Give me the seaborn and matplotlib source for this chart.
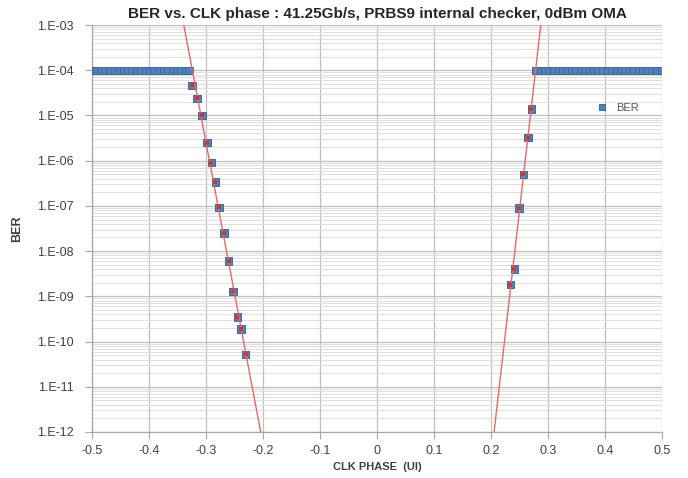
import numpy as np
import pandas as pd
import matplotlib
matplotlib.use("Agg")
import matplotlib.pyplot as plt
import matplotlib.ticker as mticker
import seaborn as sns

# ---- data ----
left_floor_phase = [-0.500, -0.492, -0.484, -0.477, -0.469, -0.461, -0.453, -0.445,
                    -0.438, -0.430, -0.422, -0.414, -0.406, -0.398, -0.391, -0.383,
                    -0.375, -0.367, -0.359, -0.352, -0.344, -0.336, -0.330]
right_floor_phase = [0.279, 0.287, 0.295, 0.302, 0.310, 0.318, 0.326, 0.334, 0.341,
                     0.349, 0.357, 0.365, 0.373, 0.380, 0.388, 0.396, 0.404, 0.412,
                     0.420, 0.427, 0.435, 0.443, 0.451, 0.459, 0.466, 0.474, 0.482,
                     0.490, 0.500]
floor_ber = 1e-4

left_slope_phase = [-0.3246, -0.3158, -0.3070, -0.2982, -0.2907, -0.2837, -0.2772,
                    -0.2683, -0.2605, -0.2526, -0.2453, -0.2383, -0.2304]
left_slope_ber = [4.6e-5, 2.4e-5, 1.0e-5, 2.5e-6, 9.0e-7, 3.4e-7, 9.3e-8,
                  2.5e-8, 6.0e-9, 1.3e-9, 3.5e-10, 1.9e-10, 5.2e-11]

right_slope_phase = [0.2707, 0.2649, 0.2567, 0.2491, 0.2409, 0.2339]
right_slope_ber = [1.4e-5, 3.2e-6, 5.0e-7, 9.0e-8, 4.0e-9, 1.8e-9]

x_ticks = [-0.5, -0.4, -0.3, -0.2, -0.1, 0, 0.1, 0.2, 0.3, 0.4, 0.5]
x_tick_labels = ["-0.5", "-0.4", "-0.3", "-0.2", "-0.1", "0", "0.1", "0.2", "0.3", "0.4", "0.5"]
y_exponents = [-3, -4, -5, -6, -7, -8, -9, -10, -11, -12]

title = "BER vs. CLK phase : 41.25Gb/s, PRBS9 internal checker, 0dBm OMA"

# ---- build table ----
phase_all = left_floor_phase + left_slope_phase + right_slope_phase + right_floor_phase
ber_all = ([floor_ber] * len(left_floor_phase) + left_slope_ber + right_slope_ber
           + [floor_ber] * len(right_floor_phase))
df = pd.DataFrame({"phase": phase_all, "BER": ber_all, "series": "BER"})
df_slope = pd.DataFrame({"phase": left_slope_phase + right_slope_phase,
                         "BER": left_slope_ber + right_slope_ber})

sns.set_theme(style="white")
plt.rcParams['font.family'] = ['Liberation Sans', 'DejaVu Sans']

fig = plt.figure(figsize=(6.88, 4.78), dpi=100)
ax = fig.add_axes([92/688, 1-432/478, (662-92)/688, (432-25)/478])

blue = "#4F81BD"
edge = "#3F6A94"
sns.scatterplot(data=df, x="phase", y="BER", hue="series", palette=[blue], marker="s",
                s=28, edgecolor=edge, linewidth=0.7, ax=ax, zorder=3)

ax.set_yscale("log")
ax.set_xlim(-0.5, 0.5)
ax.set_ylim(1e-12, 1e-3)

# exponential trendlines fitted to the sloped points
red = "#E8686A"
for px, py in [(left_slope_phase, left_slope_ber), (right_slope_phase, right_slope_ber)]:
    coef = np.polyfit(px, np.log10(py), 1)
    xs = np.array([(-3 - coef[1]) / coef[0], (-12 - coef[1]) / coef[0]])
    tl = pd.DataFrame({"phase": xs, "BER": 10 ** np.polyval(coef, xs)})
    sns.lineplot(data=tl, x="phase", y="BER", color=red, lw=1.0, ax=ax, zorder=4,
                 legend=False)

# small red centres on the sloped points
sns.scatterplot(data=df_slope, x="phase", y="BER", color="#D9342B", marker="s", s=5,
                linewidth=0, ax=ax, zorder=5, legend=False)

# grid
ax.set_xticks(x_ticks)
ax.set_xticklabels(x_tick_labels)
ax.set_yticks([10.0 ** e for e in y_exponents])
ax.yaxis.set_major_formatter(mticker.FuncFormatter(
    lambda v, p: "1.E-%02d" % int(round(-np.log10(v)))))
ax.yaxis.set_minor_locator(mticker.LogLocator(base=10, subs=np.arange(2, 10), numticks=100))
ax.yaxis.set_minor_formatter(mticker.NullFormatter())
ax.grid(True, which="major", axis="x", color="#BFBFBF", lw=0.9)
ax.grid(True, which="major", axis="y", color="#BFBFBF", lw=0.9)
ax.grid(True, which="minor", axis="y", color="#DEDEDE", lw=0.7)
ax.set_axisbelow(True)

for s in ["top", "right"]:
    ax.spines[s].set_visible(False)
for s in ["left", "bottom"]:
    ax.spines[s].set_color("#A6A6A6")
    ax.spines[s].set_linewidth(0.9)

ax.tick_params(axis="both", which="major", direction="out", length=5, width=0.8,
               color="#A6A6A6", labelsize=9, labelcolor="#404040", left=True, bottom=True)
ax.tick_params(axis="y", which="major", pad=8)
ax.tick_params(axis="y", which="minor", length=0)
ax.tick_params(axis="x", pad=4)

ax.set_xlabel("CLK PHASE  (UI)", fontsize=8, fontweight="bold", color="#404040", labelpad=4)
ax.set_ylabel("BER", fontsize=9, fontweight="bold", color="#404040", labelpad=10)
ax.set_title(title, fontsize=11, fontweight="bold", color="#262626", pad=5)

leg = ax.legend(loc="center left", bbox_to_anchor=(0.857, 0.797), frameon=False,
                fontsize=8, handletextpad=0.3, markerscale=0.9)
for t in leg.get_texts():
    t.set_color("#595959")

fig.savefig("out.png", dpi=100)
